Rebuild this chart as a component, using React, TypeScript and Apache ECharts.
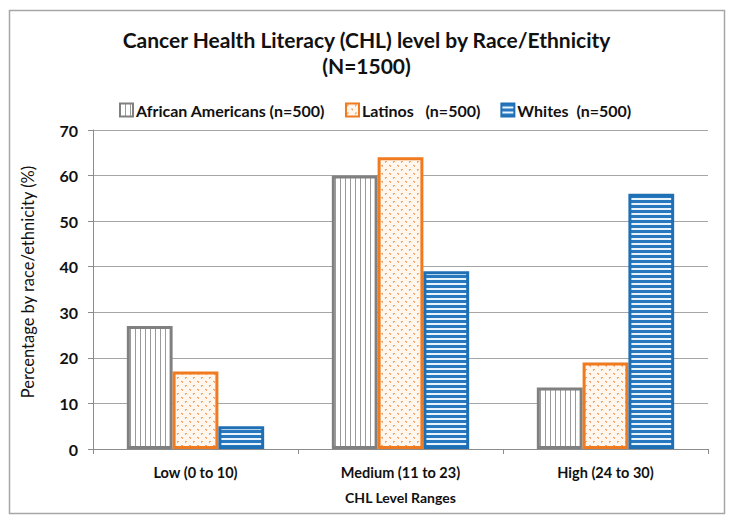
import React, { useEffect, useRef } from "react";
import * as echarts from "echarts";

const categories = ["Low (0 to 10)", "Medium (11 to 23)", "High (24 to 30)"];
const seriesNames = [
  "African Americans (n=500)",
  "Latinos\u00a0\u00a0\u00a0(n=500)",
  "Whites\u00a0\u00a0(n=500)",
];
const africanAmericans = [27, 60, 13.5];
const latinos = [17, 64, 19];
const whites = [5, 39, 56];
const yTitle = "Percentage by race/ethnicity (%)";

const FONT = "Lato, 'Open Sans', sans-serif";

function makePattern(kind: string) {
  const c = document.createElement("canvas");
  let w = 5, h = 5;
  if (kind === "gray") { w = 5; h = 4; }
  if (kind === "orange") { w = 8; h = 8; }
  if (kind === "blue") { w = 4; h = 5; }
  c.width = w; c.height = h;
  const ctx = c.getContext("2d")!;
  if (kind === "gray") {
    ctx.fillStyle = "#ffffff"; ctx.fillRect(0, 0, w, h);
    ctx.fillStyle = "#9a9a9a"; ctx.fillRect(0, 0, 1, h);
  } else if (kind === "orange") {
    ctx.fillStyle = "#fff6ee"; ctx.fillRect(0, 0, w, h);
    ctx.fillStyle = "#f3a56c";
    ctx.fillRect(1, 1, 2, 1); ctx.fillRect(1, 2, 1, 1);
    ctx.fillRect(5, 5, 2, 1); ctx.fillRect(6, 6, 1, 1);
  } else {
    ctx.fillStyle = "#e8f4fc"; ctx.fillRect(0, 0, w, h);
    ctx.fillStyle = "#2778bf"; ctx.fillRect(0, 0, w, 3);
  }
  return { image: c.toDataURL(), repeat: "repeat", imageWidth: w, imageHeight: h } as any;
}

export default function App() {
  const ref = useRef<HTMLDivElement>(null);
  useEffect(() => {
    if (!ref.current) return;
    const chart = echarts.init(ref.current, null, { renderer: "svg" });
    const values = [africanAmericans, latinos, whites];
    const borders = ["#808080", "#f07a1f", "#1f6fb5"];
    const pats = [makePattern("gray"), makePattern("orange"), makePattern("blue")];
    chart.setOption({
      animation: false,
      backgroundColor: "#ffffff",
      title: {
        text: "Cancer Health Literacy (CHL) level by Race/Ethnicity\n(N=1500)",
        left: "center",
        top: 21,
        textStyle: { fontFamily: FONT, fontWeight: "bold", fontSize: 21, lineHeight: 26, color: "#111" },
      },
      legend: {
        top: 97,
        left: 114,
        itemWidth: 13,
        itemHeight: 13,
        itemGap: 20,
        icon: "rect",
        textStyle: { fontFamily: FONT, fontWeight: "bold", fontSize: 16, color: "#111", padding: [0, 0, 0, -2] },
        data: seriesNames,
      },
      graphic: [
        {
          type: "rect",
          shape: { x: 9.5, y: 10.5, width: 715, height: 503 },
          style: { fill: "none", stroke: "#a6a6a6", lineWidth: 1.5 },
          silent: true,
        },
        {
          type: "text",
          x: 28,
          y: 282,
          rotation: Math.PI / 2,
          style: {
            text: yTitle,
            fontFamily: FONT,
            fontSize: 16.5,
            fill: "#111",
            align: "center",
            verticalAlign: "middle",
          },
          silent: true,
        },
      ],
      grid: { left: 93, right: 25, top: 130, bottom: 74, containLabel: false },
      xAxis: {
        type: "category",
        data: categories,
        name: "CHL Level Ranges",
        nameLocation: "middle",
        nameGap: 41,
        nameTextStyle: { fontFamily: FONT, fontWeight: "bold", fontSize: 14, color: "#111" },
        axisLine: { lineStyle: { color: "#8c8c8c", width: 1 } },
        axisTick: { show: true, length: 5, lineStyle: { color: "#8c8c8c" } },
        axisLabel: { fontFamily: FONT, fontWeight: "bold", fontSize: 14.5, color: "#111", margin: 16 },
      },
      yAxis: {
        type: "value",
        min: 0,
        max: 70,
        interval: 10,
        axisLine: { show: true, lineStyle: { color: "#8c8c8c", width: 1 } },
        axisTick: { show: true, length: 5, lineStyle: { color: "#8c8c8c" } },
        axisLabel: { fontFamily: FONT, fontWeight: "bold", fontSize: 16, color: "#111", margin: 15 },
        splitLine: { lineStyle: { color: "#a6a6a6", width: 1 } },
      },
      series: seriesNames.map((name, i) => ({
        name,
        type: "bar",
        data: values[i],
        barGap: "0%",
        barCategoryGap: "33%",
        itemStyle: { color: pats[i], borderColor: borders[i], borderWidth: 3 },
      })),
    });
    return () => chart.dispose();
  }, []);
  return (
    <div
      ref={ref}
      style={{ position: "absolute", left: 0, top: 0, width: 733, height: 523 }}
    />
  );
}
